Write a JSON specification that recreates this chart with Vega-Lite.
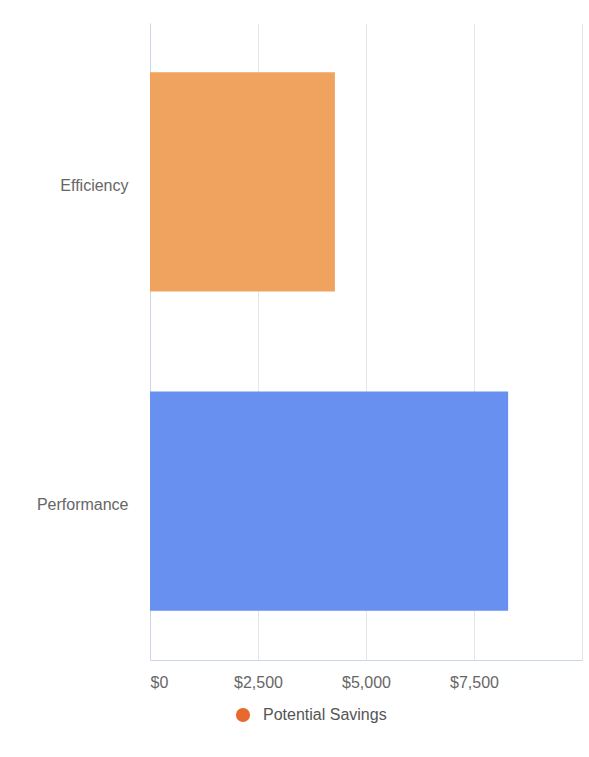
{
  "$schema": "https://vega.github.io/schema/vega-lite/v6.json",
  "width": 432,
  "height": 637,
  "autosize": {"type": "none"},
  "padding": {"left": 150, "top": 23, "right": 7, "bottom": 97},
  "background": "white",
  "config": {
    "view": {"stroke": null},
    "font": "Liberation Sans"
  },
  "data": {
    "values": [
      {"category": "Efficiency", "savings": 4280, "series": "Potential Savings"},
      {"category": "Performance", "savings": 8290, "series": "Potential Savings"}
    ]
  },
  "layer": [
    {
      "mark": {"type": "bar"},
      "encoding": {
        "y": {
          "field": "category",
          "type": "nominal",
          "sort": ["Efficiency", "Performance"],
          "scale": {"paddingInner": 0.313, "paddingOuter": 0.154},
          "axis": {
            "title": null,
            "domainColor": "#ccd6eb",
            "domainWidth": 1,
            "ticks": false,
            "tickSize": 0,
            "labelPadding": 22,
            "labelOffset": 4,
            "labelFont": "Liberation Sans",
            "labelFontSize": 16,
            "labelColor": "#666666",
            "grid": false
          }
        },
        "x": {
          "field": "savings",
          "type": "quantitative",
          "scale": {"domain": [0, 10000], "nice": false},
          "axis": {
            "title": null,
            "values": [0, 2500, 5000, 7500, 10000],
            "labelExpr": "datum.value >= 10000 ? '' : '$' + format(datum.value, ',')",
            "domainColor": "#ccd6eb",
            "domainWidth": 1,
            "grid": true,
            "gridColor": "#e6e6e6",
            "gridWidth": 1,
            "ticks": false,
            "tickSize": 0,
            "labelPadding": 14,
            "labelFont": "Liberation Sans",
            "labelFontSize": 16,
            "labelColor": "#666666"
          }
        },
        "color": {
          "field": "category",
          "type": "nominal",
          "scale": {"domain": ["Efficiency", "Performance"], "range": ["#f0a35e", "#6890f0"]},
          "legend": null
        }
      }
    },
    {
      "mark": {"type": "point", "filled": true, "opacity": 0},
      "encoding": {
        "y": {"field": "category", "type": "nominal", "sort": ["Efficiency", "Performance"]},
        "x": {"field": "savings", "type": "quantitative"},
        "color": {
          "field": "series",
          "type": "nominal",
          "scale": {"domain": ["Potential Savings"], "range": ["#e8692d"]},
          "legend": {
            "title": null,
            "orient": "none",
            "legendX": 85,
            "legendY": 684,
            "direction": "horizontal",
            "padding": 0,
            "symbolType": "circle",
            "symbolSize": 200,
            "symbolOpacity": 1,
            "symbolStrokeWidth": 0,
            "labelOffset": 12,
            "labelFont": "Liberation Sans",
            "labelFontSize": 16,
            "labelColor": "#555555",
            "encode": {"symbols": {"update": {"opacity": {"value": 1}}}}
          }
        }
      }
    }
  ],
  "resolve": {"scale": {"color": "independent"}, "legend": {"color": "independent"}}
}
